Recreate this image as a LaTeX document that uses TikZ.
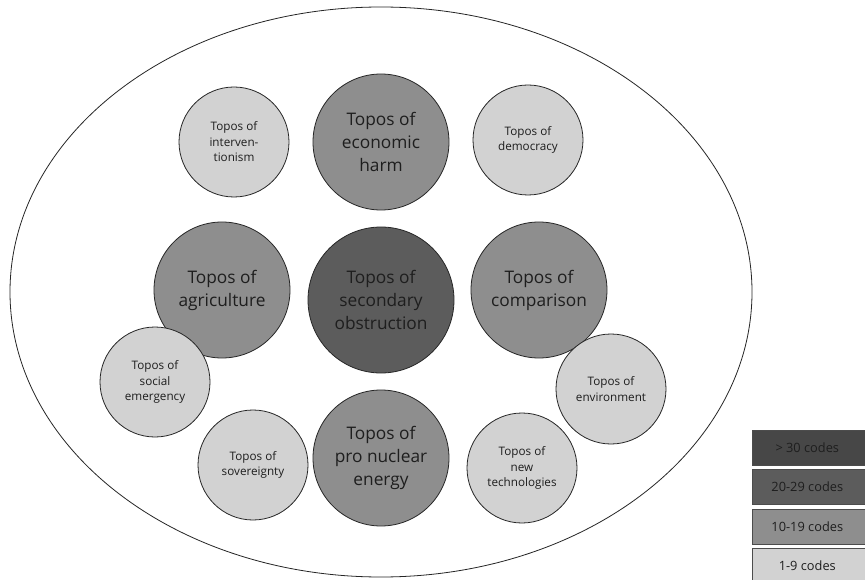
\documentclass[tikz,border=0pt]{standalone}
\usepackage{fontspec}
\setmainfont{Open Sans}
\definecolor{cdark}{HTML}{474747}
\definecolor{cmid}{HTML}{5C5C5C}
\definecolor{cgrey}{HTML}{8E8E8E}
\definecolor{clight}{HTML}{D2D2D2}
\definecolor{ctext}{HTML}{1E1E1E}
\begin{document}
\begin{tikzpicture}[x=1pt,y=-1pt,
  topic/.style={circle,draw=black!85,line width=0.8pt,inner sep=0pt,align=center,text=ctext},
  big/.style={topic,minimum size=136pt,font=\fontsize{17.3}{23}\selectfont},
  small/.style={topic,minimum size=110pt,font=\fontsize{11.7}{15.5}\selectfont},
  key/.style={rectangle,draw=black!70,line width=0.6pt,minimum width=120pt,minimum height=35pt,anchor=north west,inner sep=0pt,text=ctext,font=\fontsize{12.8}{15}\selectfont},
]
\useasboundingbox (0,0) rectangle (865,580);
\fill[white] (0,0) rectangle (865,580);

% outer frame
\draw[line width=0.8pt,black!85] (381,292) ellipse [x radius=371, y radius=285];

% topoi
\node[big,fill=cmid]  (obstr) at (381,300) [minimum size=146pt] {Topos of\\secondary\\obstruction};
\node[big,fill=cgrey] (econ)  at (381,142) {Topos of\\economic\\harm};
\node[big,fill=cgrey] (nucl)  at (381,458) {Topos of\\pro nuclear\\energy};
\node[big,fill=cgrey] (agri)  at (222,290) {Topos of\\agriculture};
\node[big,fill=cgrey] (comp)  at (539,290) {Topos of\\comparison};
\node[small,fill=clight] (interv) at (234,142) {Topos of\\interven-\\tionism};
\node[small,fill=clight] (demo)   at (528,140) {Topos of\\democracy};
\node[small,fill=clight] (social) at (155,382) {Topos of\\social\\emergency};
\node[small,fill=clight] (envir)  at (611,389) {Topos of\\environment};
\node[small,fill=clight] (sover)  at (253,465) {Topos of\\sovereignty};
\node[small,fill=clight] (newtec) at (522,468) {Topos of\\new\\technologies};

% legend
\node[key,fill=cdark]  (k1) at (752,430) {\hspace*{-10pt}> 30 codes};
\node[key,fill=cmid]   (k2) at (752,469) {\hspace*{-10pt}20-29 codes};
\node[key,fill=cgrey]  (k3) at (752,509) {\hspace*{-10pt}10-19 codes};
\node[key,fill=clight] (k4) at (752,548) {\hspace*{-10pt}1-9 codes};
\end{tikzpicture}
\end{document}
